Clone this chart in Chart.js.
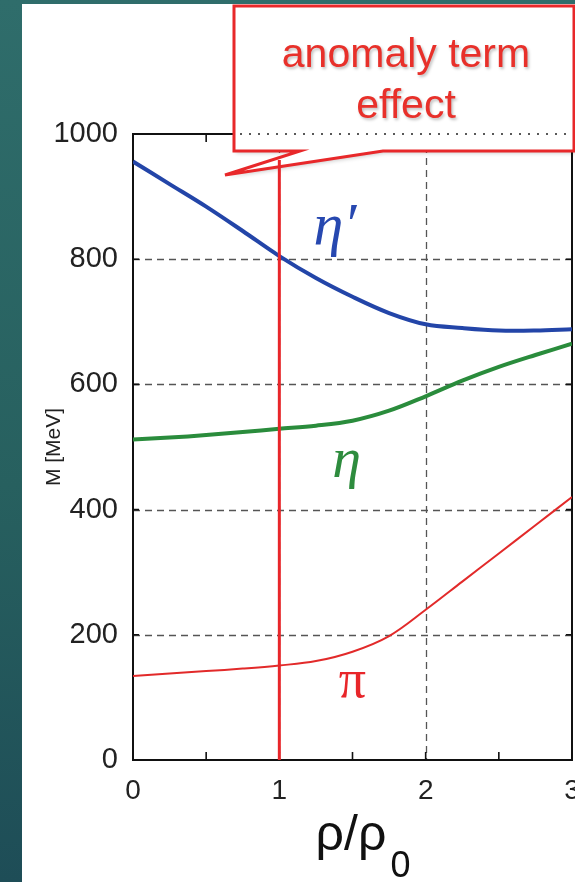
<!DOCTYPE html>
<html><head><meta charset="utf-8">
<script src="https://cdn.jsdelivr.net/npm/chart.js@4.4.0/dist/chart.umd.min.js"></script>
<style>
html,body{margin:0;padding:0;}
body{width:575px;height:882px;overflow:hidden;position:relative;background:linear-gradient(180deg,#2f6d6b 0%,#27605f 55%,#1e4d57 100%);}
#panel{position:absolute;left:22px;top:4px;right:0;bottom:0;background:#fff;}
#c{position:absolute;left:0;top:0;}
</style></head><body>
<div id="panel"></div>
<canvas id="c" width="575" height="882"></canvas>
<script>
// ---- data ----
const densities    = [0, 0.25, 0.5, 0.75, 1, 1.25, 1.5, 1.75, 2, 2.25, 2.5, 2.75, 3];
const etaPrimeMass = [956, 920, 884, 845, 805, 770, 740, 714, 696, 690, 686, 686, 688];
const etaMass      = [512, 515, 519, 524, 529, 534, 542, 558, 581, 606, 628, 647, 665];
const piMass       = [134, 138, 142, 146, 151, 158, 173, 198, 240, 285, 330, 375, 420];
const yTickValues  = [0, 200, 400, 600, 800, 1000];
const xTickValues  = [0, 1, 2, 3];
const xMinorTicks  = [0.5, 1.5, 2.5];
const anomalyDensity = 1;
const calloutLines = ['anomaly term', 'effect'];
const seriesLabels = ['\u03B7\u2032', '\u03B7', '\u03C0'];
const labelAt = [[1.38, 850], [1.46, 476], [1.5, 124]];

const mk = (ys) => densities.map((x, i) => ({x, y: ys[i]}));

const framePlugin = {
  id: 'frame',
  beforeDatasetsDraw(chart) {
    const {ctx, chartArea: a, scales: {x, y}} = chart;
    ctx.save();
    ctx.strokeStyle = '#555'; ctx.lineWidth = 1.3; ctx.setLineDash([7, 5]);
    yTickValues.forEach(v => {
      if (v === 0 || v === 1000) return;
      const py = Math.round(y.getPixelForValue(v)) + 0.5;
      ctx.beginPath(); ctx.moveTo(a.left, py); ctx.lineTo(a.right, py); ctx.stroke();
    });
    xTickValues.forEach(v => {
      if (v === 0 || v === 3) return;
      const px = Math.round(x.getPixelForValue(v)) + 0.5;
      ctx.beginPath(); ctx.moveTo(px, a.top); ctx.lineTo(px, a.bottom); ctx.stroke();
    });
    ctx.setLineDash([]);
    ctx.strokeStyle = '#111'; ctx.lineWidth = 2;
    ctx.strokeRect(a.left, a.top, a.right - a.left, a.bottom - a.top);
    ctx.lineWidth = 1.6;
    xMinorTicks.concat(xTickValues).forEach(v => {
      const px = x.getPixelForValue(v);
      ctx.beginPath(); ctx.moveTo(px, a.bottom); ctx.lineTo(px, a.bottom - 8);
      ctx.moveTo(px, a.top); ctx.lineTo(px, a.top + 8); ctx.stroke();
    });
    yTickValues.forEach(v => {
      const py = y.getPixelForValue(v);
      ctx.beginPath(); ctx.moveTo(a.left, py); ctx.lineTo(a.left + 6, py);
      ctx.moveTo(a.right, py); ctx.lineTo(a.right - 6, py); ctx.stroke();
    });
    ctx.restore();
  },
  afterDraw(chart) {
    const {ctx, chartArea: a, scales: {x, y}} = chart;
    ctx.save();
    const fonts = ['italic 60px "Liberation Serif"', 'italic 58px "Liberation Serif"', '54px "Liberation Serif"'];
    const cols = ['#2748b0', '#2e8c3e', '#e8262a'];
    ctx.textAlign = 'center'; ctx.textBaseline = 'middle';
    seriesLabels.forEach((t, i) => {
      ctx.font = fonts[i]; ctx.fillStyle = cols[i];
      ctx.fillText(t, x.getPixelForValue(labelAt[i][0]), y.getPixelForValue(labelAt[i][1]));
    });
    const calloutPath = () => {
      ctx.beginPath();
      ctx.moveTo(234, 6); ctx.lineTo(574, 6); ctx.lineTo(574, 151); ctx.lineTo(383, 151);
      ctx.lineTo(225, 175); ctx.lineTo(300, 151); ctx.lineTo(234, 151); ctx.closePath();
    };
    ctx.save();
    ctx.shadowColor = 'rgba(0,0,0,0.22)'; ctx.shadowBlur = 4; ctx.shadowOffsetX = 2; ctx.shadowOffsetY = 2;
    calloutPath(); ctx.fillStyle = '#fff'; ctx.fill();
    ctx.restore();
    calloutPath();
    ctx.strokeStyle = '#e8282a'; ctx.lineWidth = 3; ctx.lineJoin = 'miter'; ctx.stroke();
    ctx.strokeStyle = '#222'; ctx.lineWidth = 1.6; ctx.setLineDash([2, 7]);
    ctx.beginPath(); ctx.moveTo(240, a.top); ctx.lineTo(a.right, a.top); ctx.stroke();
    ctx.setLineDash([]);
    ctx.save();
    ctx.shadowColor = 'rgba(0,0,0,0.25)'; ctx.shadowBlur = 3; ctx.shadowOffsetX = 1.5; ctx.shadowOffsetY = 1.5;
    ctx.fillStyle = '#e8302a'; ctx.font = '41px "Liberation Sans"'; ctx.textBaseline = 'alphabetic';
    ctx.fillText(calloutLines[0], 406, 67);
    ctx.fillText(calloutLines[1], 406, 118);
    ctx.restore();
    const vx = x.getPixelForValue(anomalyDensity);
    ctx.strokeStyle = '#e8262a'; ctx.lineWidth = 3;
    ctx.beginPath(); ctx.moveTo(vx, 160); ctx.lineTo(vx, a.bottom); ctx.stroke();
    ctx.fillStyle = '#111'; ctx.textAlign = 'left'; ctx.textBaseline = 'alphabetic';
    ctx.font = '50px "Liberation Sans"';
    const w1 = ctx.measureText('\u03C1/\u03C1').width;
    ctx.font = '36px "Liberation Sans"';
    const w2 = ctx.measureText('0').width;
    const sx = 363 - (w1 + w2 + 4) / 2;
    ctx.font = '50px "Liberation Sans"';
    ctx.fillText('\u03C1/\u03C1', sx, 850);
    ctx.font = '36px "Liberation Sans"';
    ctx.fillText('0', sx + w1 + 4, 877);
    ctx.restore();
  }
};

new Chart(document.getElementById('c'), {
  type: 'line',
  data: {
    datasets: [
      {label: "eta'", data: mk(etaPrimeMass), borderColor: '#2345a8', borderWidth: 4, pointRadius: 0, tension: 0.35},
      {label: 'eta', data: mk(etaMass), borderColor: '#2a8c3c', borderWidth: 4, pointRadius: 0, tension: 0.35},
      {label: 'pi', data: mk(piMass), borderColor: '#e22a2a', borderWidth: 2, pointRadius: 0, tension: 0.35}
    ]
  },
  options: {
    responsive: false, animation: false,
    layout: {padding: {left: 0, top: 134, right: 3, bottom: 0}},
    plugins: {legend: {display: false}, tooltip: {enabled: false}},
    scales: {
      x: {
        type: 'linear', min: 0, max: 3,
        afterBuildTicks: s => { s.ticks = xTickValues.map(v => ({value: v})); },
        afterFit: s => { s.height = 122; s.paddingLeft = 0; s.paddingRight = 0; },
        grid: {display: false, drawTicks: false}, border: {display: false},
        ticks: {padding: 14, color: '#222', font: {family: 'Liberation Sans', size: 28}, callback: v => String(v)}
      },
      y: {
        type: 'linear', min: 0, max: 1000,
        afterBuildTicks: s => { s.ticks = yTickValues.map(v => ({value: v})); },
        afterFit: s => { s.width = 133; s.paddingTop = 0; s.paddingBottom = 0; },
        grid: {display: false, drawTicks: false}, border: {display: false},
        ticks: {padding: 15, color: '#222', font: {family: 'Liberation Sans', size: 29}, callback: v => String(v)},
        title: {display: true, text: 'M [MeV]', color: '#222', font: {family: 'Liberation Sans', size: 21}, padding: {top: 42, bottom: 0}}
      }
    }
  },
  plugins: [framePlugin]
});
</script>
</body></html>
